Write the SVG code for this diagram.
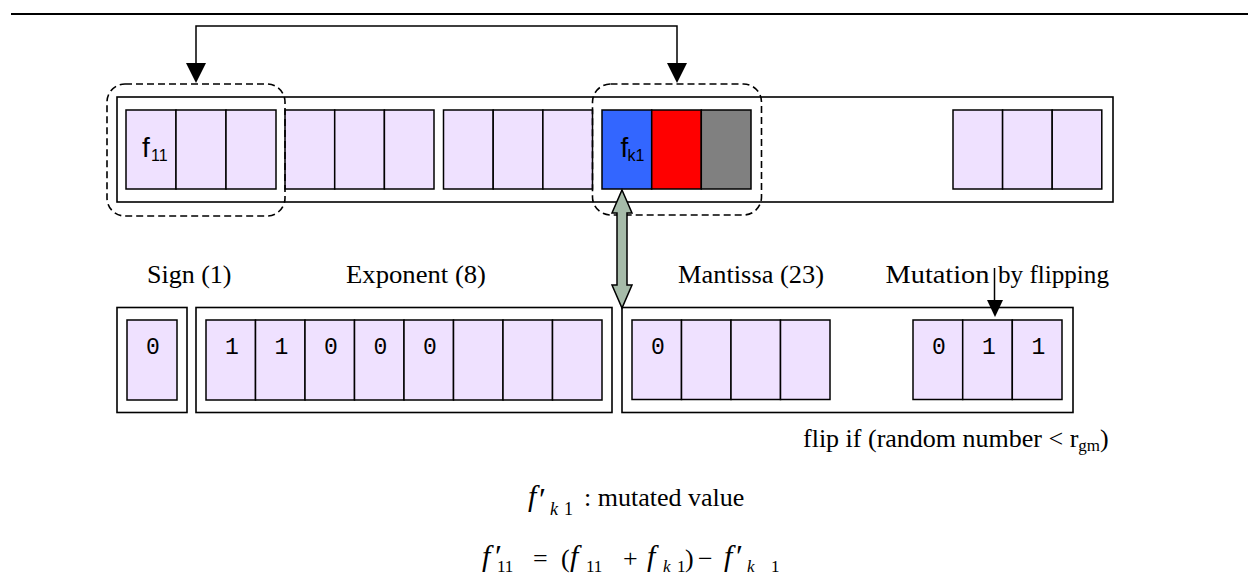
<svg xmlns="http://www.w3.org/2000/svg" width="1248" height="574" viewBox="0 0 1248 574">
<style>
.outer{fill:#fff;stroke:#000;stroke-width:1.6}
.cell{fill:#EFE1FF;stroke:#000;stroke-width:1.5}
.dash{fill:none;stroke:#000;stroke-width:1.6;stroke-dasharray:7 4}
.bit{font-family:"Liberation Mono","DejaVu Sans Mono",monospace;font-size:23px;fill:#000;text-anchor:middle}
.lbl{font-family:"Liberation Serif","Times New Roman",serif;font-size:26px;fill:#000}
.sans{font-family:"Liberation Sans",Arial,sans-serif;fill:#000}
.it{font-family:"Liberation Serif","Times New Roman",serif;font-style:italic;fill:#000}
.rm{font-family:"Liberation Serif","Times New Roman",serif;fill:#000}
.pr{font-family:"Liberation Serif","DejaVu Serif",serif;fill:#000;font-size:32px}
.conn{fill:none;stroke:#000;stroke-width:1.5}
.head{fill:#000}
</style>

<line x1="11" y1="14" x2="1248" y2="14" stroke="#000" stroke-width="2.2"/>

<g id="chromosome">
<rect class="outer" x="117" y="97" width="996" height="105"/>
</g>
<g id="gene-1">
<rect class="cell" x="126" y="110" width="50" height="79"/>
<rect class="cell" x="176" y="110" width="50" height="79"/>
<rect class="cell" x="226" y="110" width="50" height="79"/>
<text class="sans" x="142" y="157" font-size="28">f</text>
<text class="sans" x="151" y="161" font-size="16">11</text>
</g>
<g id="gene-2">
<rect class="cell" x="285" y="110" width="49.7" height="79"/>
<rect class="cell" x="334.7" y="110" width="49.7" height="79"/>
<rect class="cell" x="384.4" y="110" width="49.6" height="79"/>
</g>
<g id="gene-3">
<rect class="cell" x="443.5" y="110" width="49.7" height="79"/>
<rect class="cell" x="493.2" y="110" width="49.7" height="79"/>
<rect class="cell" x="542.9" y="110" width="49.6" height="79"/>
</g>
<g id="gene-k">
<rect x="602" y="110" width="49.7" height="79" fill="#3366FF" stroke="#000" stroke-width="1.5"/>
<rect x="651.7" y="110" width="49.6" height="79" fill="#FF0000" stroke="#000" stroke-width="1.5"/>
<rect x="701.3" y="110" width="49.7" height="79" fill="#808080" stroke="#000" stroke-width="1.5"/>
<text class="sans" x="620.5" y="157" font-size="28">f</text>
<text class="sans" x="627.5" y="161" font-size="16">k1</text>
</g>
<g id="gene-n">
<rect class="cell" x="953" y="110" width="49.6" height="79"/>
<rect class="cell" x="1002.6" y="110" width="49.6" height="79"/>
<rect class="cell" x="1052.2" y="110" width="49.6" height="79"/>
</g>
<g id="select-1">
<rect class="dash" x="107" y="84" width="178" height="132" rx="18"/>
</g>
<g id="select-k">
<rect class="dash" x="592.5" y="84" width="169" height="131" rx="18"/>
</g>

<g id="labels">
<text class="lbl" x="147" y="283">Sign (1)</text>
<text class="lbl" x="346" y="283" textLength="140" lengthAdjust="spacingAndGlyphs">Exponent (8)</text>
<text class="lbl" x="678" y="283" textLength="146" lengthAdjust="spacingAndGlyphs">Mantissa (23)</text>
<text class="lbl" x="885.5" y="283"><tspan textLength="104" lengthAdjust="spacingAndGlyphs">Mutation</tspan><tspan x="998" textLength="111" lengthAdjust="spacingAndGlyphs">by flipping</tspan></text>
<text class="lbl" x="803" y="447">flip if (random number &lt; r<tspan font-size="17" dy="4">gm</tspan><tspan dy="-4">)</tspan></text>
</g>

<g id="sign">
<rect class="outer" x="117" y="307.5" width="70" height="105"/>
<rect class="cell" x="127" y="320" width="50" height="80"/>
<text class="bit" x="153" y="354">0</text>
</g>

<g id="exponent">
<rect class="outer" x="196" y="307.5" width="416" height="105"/>
<rect class="cell" x="206" y="320" width="49.5" height="80"/>
<rect class="cell" x="255.5" y="320" width="49.5" height="80"/>
<rect class="cell" x="305" y="320" width="49.5" height="80"/>
<rect class="cell" x="354.5" y="320" width="49.5" height="80"/>
<rect class="cell" x="404" y="320" width="49.5" height="80"/>
<rect class="cell" x="453.5" y="320" width="49.5" height="80"/>
<rect class="cell" x="503" y="320" width="49.5" height="80"/>
<rect class="cell" x="552.5" y="320" width="49.5" height="80"/>
<text class="bit" x="232" y="354">1</text>
<text class="bit" x="281.5" y="354">1</text>
<text class="bit" x="331" y="354">0</text>
<text class="bit" x="380.5" y="354">0</text>
<text class="bit" x="430" y="354">0</text>
</g>

<g id="mantissa">
<rect class="outer" x="622" y="307.5" width="451" height="105"/>
<rect class="cell" x="632" y="320" width="49.5" height="79.5"/>
<rect class="cell" x="681.5" y="320" width="49.5" height="79.5"/>
<rect class="cell" x="731" y="320" width="49.5" height="79.5"/>
<rect class="cell" x="780.5" y="320" width="49.5" height="79.5"/>
<rect class="cell" x="913" y="320" width="49.7" height="79.5"/>
<rect class="cell" x="962.7" y="320" width="49.6" height="79.5"/>
<rect class="cell" x="1012.3" y="320" width="49.7" height="79.5"/>
<text class="bit" x="658" y="354">0</text>
<text class="bit" x="939" y="354">0</text>
<text class="bit" x="989" y="354">1</text>
<text class="bit" x="1038.5" y="354">1</text>
</g>

<g id="connectors">
<path class="conn" d="M196,64 L196,26 L677,26 L677,64"/>
<polygon class="head" points="186,63 206,63 196,83"/>
<polygon class="head" points="667,63 687,63 677,83"/>
<polygon points="622,190 632,213 627,213 627,285 632,285 622,308 612,285 617,285 617,213 612,213" fill="#A6BBA9" stroke="#000" stroke-width="1.5" stroke-linejoin="miter"/>
<line class="conn" x1="994.5" y1="268" x2="994.5" y2="302"/>
<polygon class="head" points="987,300 1003,300 995,317"/>
</g>

<g id="formula-1">
<text class="it" x="528" y="506" font-size="30">f</text>
<text class="pr" x="539" y="510">′</text>
<text class="it" x="550" y="515" font-size="18">k</text>
<text class="rm" x="564" y="515" font-size="18">1</text>
<text class="lbl" x="584" y="506">: mutated value</text>
</g>
<g id="formula-2">
<text class="it" x="482" y="566" font-size="30">f</text>
<text class="pr" x="495" y="567">′</text>
<text class="rm" x="497" y="572" font-size="17">11</text>
<text class="rm" x="533" y="567" font-size="26">=</text>
<text class="rm" x="561" y="567" font-size="26">(</text>
<text class="it" x="570" y="566" font-size="30">f</text>
<text class="rm" x="586" y="572" font-size="17">11</text>
<text class="rm" x="623" y="567" font-size="26">+</text>
<text class="it" x="647" y="566" font-size="30">f</text>
<text class="it" x="663" y="572" font-size="17">k</text>
<text class="rm" x="677" y="572" font-size="17">1</text>
<text class="rm" x="685" y="567" font-size="26">)</text>
<text class="rm" x="698" y="567" font-size="26">−</text>
<text class="it" x="724" y="566" font-size="30">f</text>
<text class="pr" x="736" y="567">′</text>
<text class="it" x="747" y="572" font-size="17">k</text>
<text class="rm" x="771" y="572" font-size="17">1</text>
</g>
</svg>
